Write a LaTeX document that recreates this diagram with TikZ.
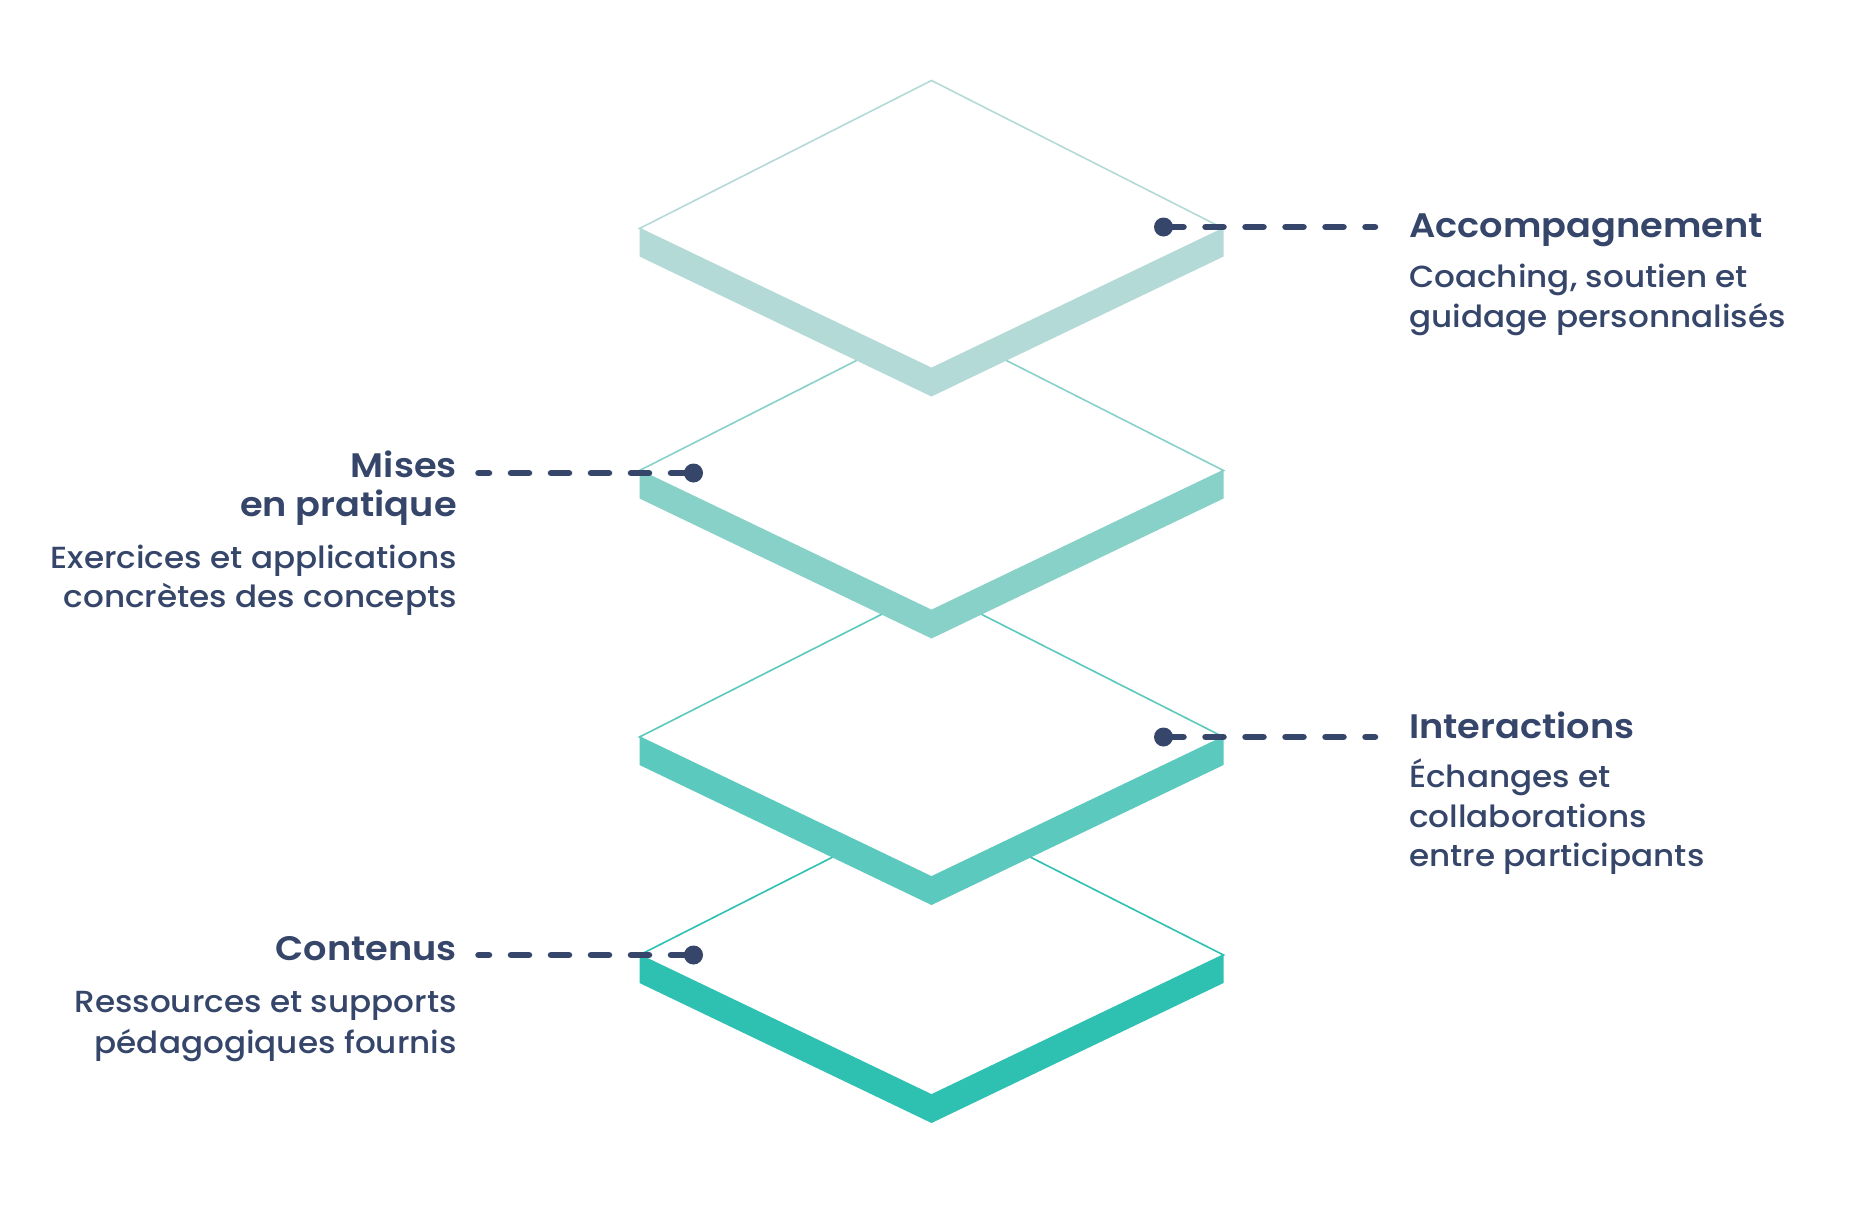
\documentclass[tikz,border=0pt]{standalone}
\usepackage{fontspec}
\newfontfamily\titlefont{Poppins SemiBold}[FakeStretch=1.08]
\newfontfamily\descfont{Poppins Medium}[FakeStretch=1.07]
\definecolor{navy}{HTML}{35466A}
\definecolor{layA}{HTML}{B4DAD7}
\definecolor{layB}{HTML}{87D1C8}
\definecolor{layC}{HTML}{5BC9BD}
\definecolor{layD}{HTML}{2EC1B2}
\newcommand\drawslab[2]{%
  \fill[#2] (639.5,{#1}) -- (931.5,{#1+140}) -- (1223.5,{#1}) -- (1223.5,{#1+28}) -- (931.5,{#1+168}) -- (639.5,{#1+28}) -- cycle;
  \filldraw[fill=white, draw=#2, line width=1.6pt, line join=miter] (931.5,{#1-148}) -- (1223.5,{#1}) -- (931.5,{#1+140}) -- (639.5,{#1}) -- cycle;
}
\tikzset{
  dashline/.style={draw=navy, line width=6.5pt, line cap=round, dash pattern=on 18pt off 22pt, dash phase=38pt},
  leftdash/.style={dashline, dash phase=35.5pt},
  dotmark/.style={fill=navy},
  ttl/.style={text=navy, inner sep=0pt, font=\titlefont\fontsize{34}{40}\selectfont},
  dsc/.style={text=navy, inner sep=0pt, font=\descfont\fontsize{30.5}{40}\selectfont},
}
\begin{document}
\begin{tikzpicture}[x=1pt,y=-1pt]
\useasboundingbox (0,0) rectangle (1858,1210);
\fill[white] (0,0) rectangle (1858,1210);
\drawslab{955}{layD}
\drawslab{737}{layC}
\drawslab{470.5}{layB}
\drawslab{228.5}{layA}
% connectors
\coordinate (d1) at (1163.5,227);
\coordinate (e1) at (1375,227);
\coordinate (d2) at (693.5,473);
\coordinate (e2) at (478.5,473);
\coordinate (d3) at (1163.5,737);
\coordinate (e3) at (1375,737);
\coordinate (d4) at (693.5,955);
\coordinate (e4) at (478.5,955);
\draw[dashline] (d1) -- (e1);
\draw[leftdash] (d2) -- (e2);
\draw[dashline] (d3) -- (e3);
\draw[leftdash] (d4) -- (e4);
\fill[dotmark] (d1) circle (9.5pt);
\fill[dotmark] (d2) circle (9.5pt);
\fill[dotmark] (d3) circle (9.5pt);
\fill[dotmark] (d4) circle (9.5pt);
% right texts
\node[ttl, anchor=base west] (t1) at (1409,237) {Accompagnement};
\node[dsc, anchor=base west] (s1a) at (1409,287) {Coaching, soutien et};
\node[dsc, anchor=base west] (s1b) at (1409,327) {guidage personnalisés};
\node[ttl, anchor=base west] (t3) at (1409,738) {Interactions};
\node[dsc, anchor=base west] (s3a) at (1409,787) {Échanges et};
\node[dsc, anchor=base west] (s3b) at (1409,827) {collaborations};
\node[dsc, anchor=base west] (s3c) at (1409,866) {entre participants};
% left texts
\node[ttl, anchor=base east] (t2a) at (457,477) {Mises};
\node[ttl, anchor=base east] (t2b) at (457,516) {en pratique};
\node[dsc, anchor=base east] (s2a) at (457,568) {Exercices et applications};
\node[dsc, anchor=base east] (s2b) at (457,607) {concrètes des concepts};
\node[ttl, anchor=base east] (t4) at (457,960) {Contenus};
\node[dsc, anchor=base east] (s4a) at (457,1012) {Ressources et supports};
\node[dsc, anchor=base east] (s4b) at (457,1053) {pédagogiques fournis};
\end{tikzpicture}
\end{document}
